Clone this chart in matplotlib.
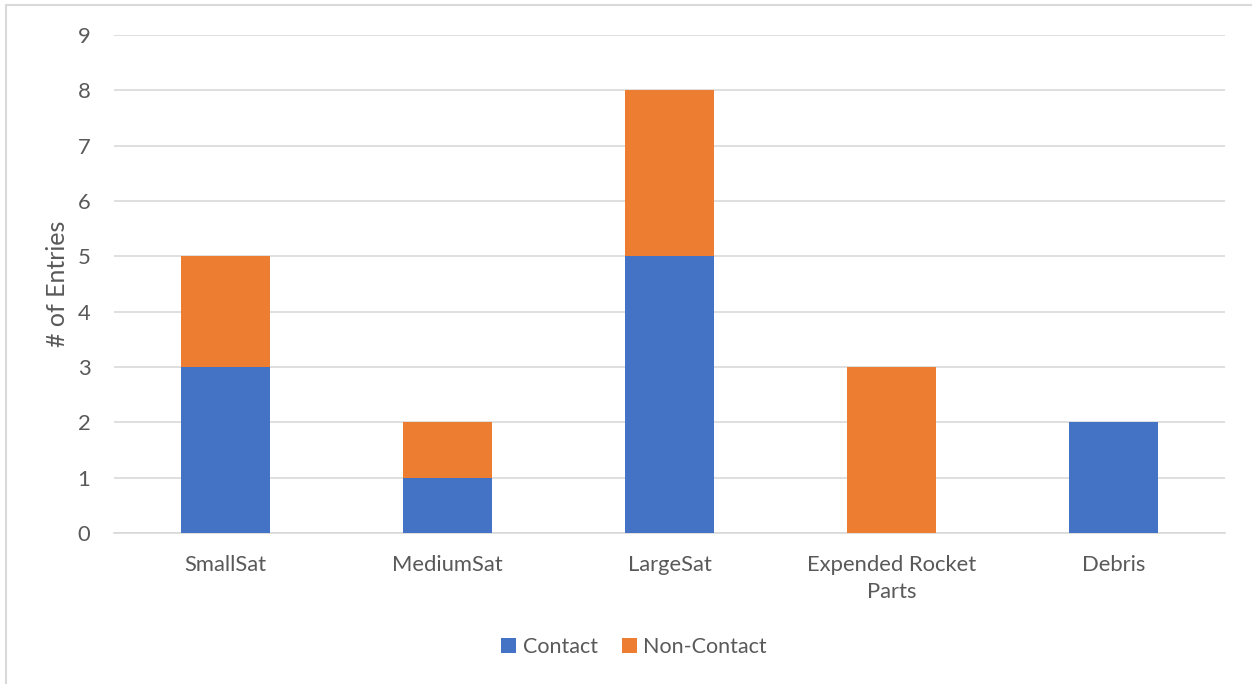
import matplotlib.pyplot as plt
from matplotlib.patches import Rectangle
import numpy as np

# %%  Data

categories  = ['SmallSat', 'MediumSat', 'LargeSat', 'Expended Rocket\nParts', 'Debris']
contact     = [3, 1, 5, 0, 2]
non_contact = [2, 1, 3, 3, 0]

# %%  Style

plt.rcParams['font.family'] = ['Lato', 'DejaVu Sans']
TEXT_COL = '#595959'
GRID_COL = '#D9D9D9'
BLUE     = '#4472C4'
ORANGE   = '#ED7D31'

fig = plt.figure(figsize=(12.52, 6.84), dpi=100)
ax = fig.add_axes([114 / 1252, 1 - 533 / 684, (1225 - 114) / 1252, (533 - 35) / 684])

# chart frame (left and top edges show, the rest runs off the canvas)
fig.patches.append(Rectangle((6 / 1252, -0.05), 1.2, 1 - 5 / 684 + 0.05,
                             transform=fig.transFigure, fill=False,
                             edgecolor=GRID_COL, linewidth=1.5, zorder=0))

x = np.arange(len(categories))
ax.bar(x, contact, width=0.4, color=BLUE, label='Contact', zorder=3)
ax.bar(x, non_contact, width=0.4, bottom=contact, color=ORANGE, label='Non-Contact', zorder=3)

ax.set_xlim(-0.5, len(categories) - 0.5)
ax.set_ylim(0, 9)
ax.set_yticks(range(0, 10))
ax.yaxis.grid(True, color=GRID_COL, linewidth=1.2, zorder=0)
ax.set_axisbelow(True)

for side in ['top', 'right', 'left']:
    ax.spines[side].set_visible(False)
ax.spines['bottom'].set_color(GRID_COL)
ax.spines['bottom'].set_linewidth(1.2)

ax.set_xticks(x)
ax.set_xticklabels(categories, fontsize=15.8, color=TEXT_COL, linespacing=1.45)
ax.tick_params(axis='x', length=0, pad=16)
ax.tick_params(axis='y', length=0, pad=17, labelsize=15.8, labelcolor=TEXT_COL)

ax.set_ylabel('# of Entries', fontsize=18, color=TEXT_COL, labelpad=6)

handles, labels = ax.get_legend_handles_labels()
fig.legend(handles, labels, loc='center', bbox_to_anchor=(634 / 1252, 1 - 647 / 684),
           ncol=2, frameon=False, fontsize=15.5, labelcolor=TEXT_COL,
           handlelength=0.7, handleheight=0.7, handletextpad=0.3, columnspacing=1.1)

fig.savefig('out.png', dpi=100, facecolor='white')
